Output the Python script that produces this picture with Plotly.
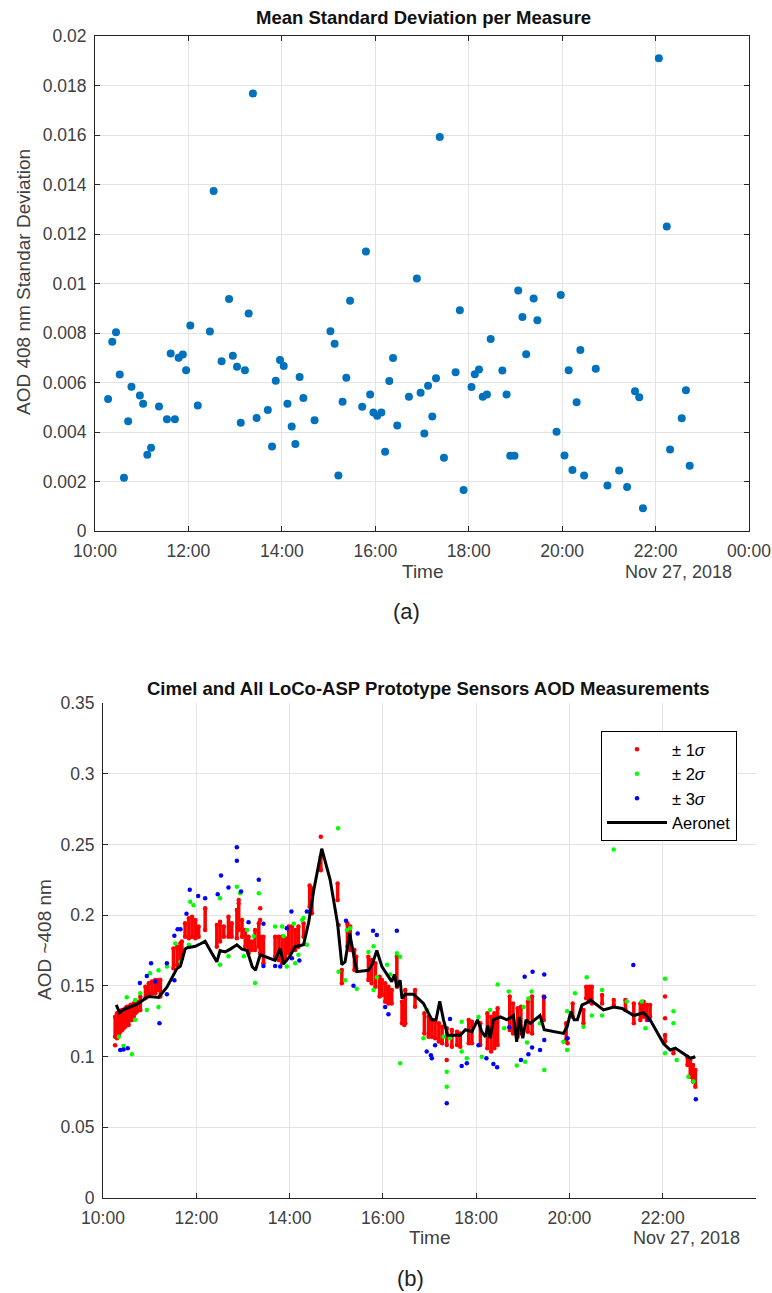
import plotly.graph_objects as go
import pandas as pd

# ---------------- data (time in decimal hours, Nov 27 2018) ----------------
std_hours = [10.28, 10.37, 10.45, 10.53, 10.62, 10.71, 10.78, 10.96, 11.03, 11.12,
             11.20, 11.37, 11.54, 11.62, 11.71, 11.79, 11.88, 11.95, 12.04, 12.20,
             12.46, 12.54, 12.71, 12.87, 12.95, 13.04, 13.12, 13.21, 13.29, 13.38,
             13.46, 13.70, 13.79, 13.87, 13.96, 14.04, 14.12, 14.21, 14.29, 14.38,
             14.46, 14.70, 15.04, 15.13, 15.21, 15.30, 15.38, 15.46, 15.72, 15.80,
             15.89, 15.96, 16.04, 16.13, 16.21, 16.30, 16.38, 16.47, 16.72, 16.89,
             16.97, 17.05, 17.13, 17.22, 17.30, 17.38, 17.47, 17.72, 17.81, 17.89,
             18.06, 18.13, 18.22, 18.30, 18.39, 18.47, 18.72, 18.81, 18.89, 18.98,
             19.06, 19.15, 19.23, 19.39, 19.47, 19.88, 19.97, 20.05, 20.14, 20.22,
             20.31, 20.39, 20.47, 20.72, 20.97, 21.22, 21.39, 21.56, 21.65, 21.73,
             22.07, 22.24, 22.31, 22.56, 22.65, 22.73]
std_values = [0.00533, 0.00765, 0.00803, 0.00632, 0.00215, 0.00443, 0.00583, 0.00547, 0.00514, 0.00308,
              0.00336, 0.00503, 0.00452, 0.00717, 0.00452, 0.00700, 0.00713, 0.00650, 0.00830, 0.00507,
              0.00806, 0.01374, 0.00686, 0.00937, 0.00708, 0.00664, 0.00437, 0.00650, 0.00879, 0.01768,
              0.00457, 0.00489, 0.00341, 0.00607, 0.00691, 0.00667, 0.00514, 0.00422, 0.00352, 0.00622,
              0.00537, 0.00447, 0.00807, 0.00757, 0.00224, 0.00522, 0.00619, 0.00930, 0.00502, 0.01129,
              0.00552, 0.00479, 0.00466, 0.00479, 0.00320, 0.00606, 0.00699, 0.00426, 0.00542, 0.01020,
              0.00559, 0.00394, 0.00587, 0.00463, 0.00617, 0.01592, 0.00296, 0.00641, 0.00892, 0.00166,
              0.00582, 0.00633, 0.00653, 0.00542, 0.00552, 0.00776, 0.00648, 0.00552, 0.00304, 0.00304,
              0.00972, 0.00865, 0.00714, 0.00939, 0.00852, 0.00401, 0.00954, 0.00305, 0.00650, 0.00246,
              0.00520, 0.00731, 0.00224, 0.00656, 0.00184, 0.00244, 0.00178, 0.00565, 0.00540, 0.00092,
              0.01910, 0.01230, 0.00329, 0.00456, 0.00569, 0.00264]

# +-1 sigma: vertical streaks of measurements (time, lowest, highest)
red_hours = [10.26, 10.30, 10.34, 10.37, 10.41, 10.44, 10.48, 10.51, 10.55, 10.59,
             10.62, 10.66, 10.69, 10.73, 10.80, 10.91, 10.98, 11.05, 11.12, 11.19,
             11.23, 11.51, 11.59, 11.66, 11.69, 11.76, 11.84, 11.91, 11.98, 12.05,
             12.19, 12.44, 12.51, 12.59, 12.69, 12.76, 12.87, 12.91, 12.98, 13.05,
             13.12, 13.19, 13.26, 13.34, 13.37, 13.44, 13.69, 13.77, 13.84, 13.91,
             13.98, 14.05, 14.12, 14.19, 14.30, 14.43, 14.48, 14.67, 15.03, 15.12,
             15.24, 15.30, 15.39, 15.43, 15.69, 15.76, 15.84, 15.93, 15.98, 16.05,
             16.12, 16.19, 16.30, 16.41, 16.46, 16.48, 16.69, 16.89, 16.98, 17.05,
             17.12, 17.20, 17.27, 17.37, 17.48, 17.59, 17.66, 17.84, 17.91, 18.09,
             18.24, 18.32, 18.39, 18.46, 18.72, 18.79, 18.89, 18.96, 19.11, 19.20,
             19.45, 19.93, 20.07, 20.30, 20.36, 20.43, 20.48, 20.70, 20.95, 21.20,
             21.38, 21.52, 21.59, 21.66, 21.73, 22.05, 22.23, 22.53, 22.59, 22.65,
             22.70]
red_low = [0.1141, 0.1129, 0.1153, 0.1176, 0.1188, 0.1200, 0.1211, 0.1235, 0.1223, 0.1259,
           0.1259, 0.1282, 0.1306, 0.1318, 0.1329, 0.1412, 0.1435, 0.1447, 0.1447, 0.1471,
           0.1424, 0.1624, 0.1648, 0.1683, 0.1695, 0.1848, 0.1836, 0.1848, 0.1836, 0.1848,
           0.1895, 0.1777, 0.1813, 0.1848, 0.1848, 0.1848, 0.1836, 0.1895, 0.1848, 0.1777,
           0.1730, 0.1754, 0.1754, 0.1777, 0.1730, 0.1659, 0.1706, 0.1683, 0.1659, 0.1683,
           0.1730, 0.1754, 0.1754, 0.1777, 0.1848, 0.2060, 0.2013, 0.2318, 0.2107, 0.1518,
           0.1777, 0.1754, 0.1612, 0.1624, 0.1541, 0.1518, 0.1494, 0.1424, 0.1435, 0.1388,
           0.1376, 0.1376, 0.1494, 0.1235, 0.1223, 0.1235, 0.1353, 0.1164, 0.1141, 0.1141,
           0.1129, 0.1106, 0.1094, 0.1082, 0.1070, 0.1082, 0.1070, 0.1094, 0.1094, 0.1082,
           0.1059, 0.1035, 0.1059, 0.1082, 0.1188, 0.1164, 0.1141, 0.1164, 0.1176, 0.1164,
           0.1259, 0.1117, 0.1282, 0.1235, 0.1412, 0.1388, 0.1376, 0.1376, 0.1365, 0.1329,
           0.1235, 0.1259, 0.1282, 0.1259, 0.1282, 0.1106, 0.1023, 0.0941, 0.0858, 0.0823,
           0.0787]
red_high = [0.1282, 0.1306, 0.1318, 0.1318, 0.1329, 0.1329, 0.1341, 0.1353, 0.1353, 0.1365,
            0.1353, 0.1376, 0.1376, 0.1388, 0.1424, 0.1494, 0.1518, 0.1530, 0.1541, 0.1541,
            0.1541, 0.1765, 0.1777, 0.1801, 0.1813, 0.1942, 0.1978, 0.1989, 0.1966, 0.1919,
            0.2048, 0.1930, 0.1954, 0.1919, 0.1989, 0.1942, 0.2036, 0.2084, 0.1966, 0.1895,
            0.1848, 0.1813, 0.1895, 0.1942, 0.1848, 0.1848, 0.1848, 0.1848, 0.1848, 0.1836,
            0.1919, 0.1919, 0.1895, 0.1919, 0.1942, 0.2210, 0.2190, 0.2413, 0.2224, 0.1612,
            0.1942, 0.1919, 0.1754, 0.1706, 0.1706, 0.1683, 0.1659, 0.1565, 0.1541, 0.1518,
            0.1494, 0.1471, 0.1706, 0.1388, 0.1353, 0.1471, 0.1471, 0.1306, 0.1282, 0.1259,
            0.1247, 0.1235, 0.1211, 0.1200, 0.1188, 0.1176, 0.1164, 0.1259, 0.1247, 0.1235,
            0.1306, 0.1282, 0.1306, 0.1341, 0.1424, 0.1376, 0.1341, 0.1353, 0.1388, 0.1424,
            0.1424, 0.1235, 0.1376, 0.1329, 0.1494, 0.1494, 0.1494, 0.1435, 0.1400, 0.1400,
            0.1376, 0.1376, 0.1388, 0.1365, 0.1365, 0.1153, 0.1047, 0.0999, 0.0976, 0.0941,
            0.0905]
red_single_hours = [10.26, 12.91, 13.37, 13.37, 14.67, 15.05, 17.37, 19.96, 22.05, 22.05]
red_single_values = [0.1080, 0.2107, 0.2048, 0.1966, 0.2555, 0.1930, 0.0976, 0.1094, 0.1424, 0.1271]

green_hours = [10.34, 10.44, 10.62, 10.51, 10.69, 10.69, 10.80, 10.94, 11.01, 11.19,
               11.19, 11.37, 11.55, 11.66, 11.87, 11.94, 11.84, 12.51, 12.51, 12.69,
               12.87, 12.94, 13.02, 13.09, 13.26, 13.34, 13.23, 13.69, 13.84, 13.87,
               13.94, 14.09, 14.12, 14.19, 14.27, 14.30, 14.37, 15.04, 15.05, 15.19,
               15.23, 15.30, 15.44, 15.69, 15.80, 15.80, 15.87, 16.09, 16.16, 16.30,
               16.37, 16.37, 16.87, 16.94, 17.30, 17.37, 17.37, 17.44, 17.69, 17.69,
               17.80, 18.05, 18.12, 18.30, 18.46, 18.70, 18.87, 19.02, 19.05, 19.12,
               19.19, 19.37, 19.46, 18.60, 19.09, 19.87, 19.95, 19.95, 20.12, 20.37,
               20.30, 20.48, 20.70, 20.70, 20.95, 21.23, 21.55, 21.63, 22.05, 22.05,
               22.23, 22.23, 22.30, 22.55, 22.66]
green_values = [0.1140, 0.1075, 0.1016, 0.1420, 0.1400, 0.1260, 0.1447, 0.1330, 0.1590, 0.1610,
                0.1350, 0.1636, 0.1800, 0.1670, 0.2095, 0.2070, 0.1790, 0.2120, 0.1650, 0.1710,
                0.2200, 0.2155, 0.1710, 0.1895, 0.1520, 0.2155, 0.1850, 0.1920, 0.1920, 0.1850,
                0.1636, 0.1940, 0.1660, 0.1720, 0.1966, 0.1980, 0.1790, 0.2614, 0.1600, 0.1540,
                0.1895, 0.1907, 0.1480, 0.1740, 0.1780, 0.1470, 0.1560, 0.1650, 0.1580, 0.1730,
                0.1706, 0.0952, 0.1130, 0.1330, 0.1140, 0.0893, 0.0787, 0.1129, 0.1247, 0.1035,
                0.0988, 0.1280, 0.0999, 0.1330, 0.1510, 0.1460, 0.0936, 0.1350, 0.0964, 0.1410,
                0.1460, 0.1235, 0.0905, 0.1200, 0.1100, 0.1105, 0.1047, 0.1320, 0.1447, 0.1560,
                0.1210, 0.1290, 0.1470, 0.1290, 0.2465, 0.1390, 0.1390, 0.1200, 0.1550, 0.1023,
                0.1320, 0.1235, 0.0976, 0.0858, 0.0823]

blue_hours = [10.37, 10.44, 10.53, 10.79, 10.94, 11.03, 11.12, 11.21, 11.37, 11.37,
              11.53, 11.53, 11.60, 11.66, 11.79, 11.86, 12.04, 12.19, 12.46, 12.53,
              12.69, 12.87, 12.87, 12.96, 13.12, 13.34, 13.44, 13.44, 13.69, 13.80,
              13.94, 14.04, 14.05, 14.21, 14.37, 14.44, 15.21, 15.37, 15.46, 15.79,
              15.87, 16.05, 16.12, 16.30, 16.94, 17.03, 17.05, 17.12, 17.44, 17.37,
              17.69, 17.80, 18.05, 18.22, 18.37, 18.45, 18.71, 18.96, 19.04, 19.12,
              19.21, 19.20, 19.37, 19.46, 19.46, 19.46, 19.96, 21.37, 21.70, 22.71]
blue_values = [0.1047, 0.1050, 0.1058, 0.1520, 0.1570, 0.1660, 0.1530, 0.1235, 0.1660, 0.1440,
               0.1540, 0.1855, 0.1900, 0.1900, 0.2010, 0.2180, 0.2135, 0.2120, 0.2147, 0.2280,
               0.2195, 0.2480, 0.2385, 0.2168, 0.1950, 0.2250, 0.1940, 0.1640, 0.1640, 0.1636,
               0.1907, 0.2025, 0.1695, 0.1680, 0.2025, 0.2025, 0.1960, 0.1500, 0.1870, 0.1890,
               0.1860, 0.1350, 0.1300, 0.1890, 0.1035, 0.1010, 0.0988, 0.1080, 0.1266, 0.0670,
               0.0933, 0.0952, 0.1080, 0.0988, 0.0948, 0.0924, 0.1207, 0.0976, 0.1565, 0.1016,
               0.1600, 0.1065, 0.1047, 0.1580, 0.1420, 0.1117, 0.1130, 0.1648, 0.1260, 0.0698]

aeronet_hours = [10.285, 10.357, 10.43, 10.51, 10.62, 10.73, 10.84, 10.94, 11.00, 11.19,
                 11.37, 11.48, 11.58, 11.66, 11.76, 11.81, 11.98, 12.08, 12.19, 12.30,
                 12.44, 12.51, 12.62, 12.73, 12.87, 12.98, 13.09, 13.20, 13.27, 13.37,
                 13.69, 13.80, 13.87, 14.00, 14.12, 14.30, 14.41, 14.52, 14.69, 14.87,
                 15.03, 15.12, 15.19, 15.29, 15.37, 15.44, 15.69, 15.77, 15.87, 15.98,
                 16.12, 16.19, 16.25, 16.30, 16.37, 16.41, 16.48, 16.66, 16.87, 17.05,
                 17.14, 17.22, 17.30, 17.39, 17.66, 17.77, 17.91, 18.03, 18.12, 18.20,
                 18.25, 18.30, 18.37, 18.52, 18.66, 18.80, 18.87, 18.93, 19.00, 19.07,
                 19.16, 19.30, 19.37, 19.46, 19.87, 19.95, 20.03, 20.10, 20.17, 20.27,
                 20.36, 20.45, 20.73, 20.95, 21.13, 21.38, 21.50, 21.59, 21.73, 22.02,
                 22.16, 22.27, 22.45, 22.59, 22.70]
aeronet_values = [0.1365, 0.1310, 0.1330, 0.1340, 0.1353, 0.1370, 0.1395, 0.1420, 0.1424, 0.1418,
                  0.1490, 0.1560, 0.1620, 0.1640, 0.1760, 0.1770, 0.1780, 0.1796, 0.1815, 0.1750,
                  0.1670, 0.1750, 0.1740, 0.1760, 0.1790, 0.1760, 0.1750, 0.1636, 0.1610, 0.1720,
                  0.1680, 0.1765, 0.1655, 0.1706, 0.1777, 0.1790, 0.1950, 0.2180, 0.2470, 0.2250,
                  0.1940, 0.1650, 0.1670, 0.1870, 0.1720, 0.1600, 0.1610, 0.1650, 0.1750, 0.1636,
                  0.1565, 0.1530, 0.1580, 0.1490, 0.1540, 0.1410, 0.1440, 0.1440, 0.1376, 0.1260,
                  0.1260, 0.1390, 0.1260, 0.1150, 0.1150, 0.1190, 0.1176, 0.1260, 0.1176, 0.1140,
                  0.1220, 0.1130, 0.1260, 0.1280, 0.1260, 0.1290, 0.1105, 0.1280, 0.1130, 0.1260,
                  0.1235, 0.1270, 0.1290, 0.1190, 0.1164, 0.1210, 0.1320, 0.1260, 0.1260, 0.1365,
                  0.1377, 0.1400, 0.1330, 0.1350, 0.1340, 0.1290, 0.1300, 0.1310, 0.1260, 0.1090,
                  0.1047, 0.1060, 0.1020, 0.0988, 0.0999]

x_tick_hours = [10, 12, 14, 16, 18, 20, 22, 24]
x_tick_text = ["10:00", "12:00", "14:00", "16:00", "18:00", "20:00", "22:00", "00:00"]
top_y_ticks = [0, 0.002, 0.004, 0.006, 0.008, 0.01, 0.012, 0.014, 0.016, 0.018, 0.02]
top_y_text = ["0", "0.002", "0.004", "0.006", "0.008", "0.01", "0.012", "0.014", "0.016", "0.018", "0.02"]
bot_y_ticks = [0, 0.05, 0.1, 0.15, 0.2, 0.25, 0.3, 0.35]
bot_y_text = ["0", "0.05", "0.1", "0.15", "0.2", "0.25", "0.3", "0.35"]

# ---------------- helpers ----------------
DAY = pd.Timestamp("2018-11-27")
W, H = 772, 1293


def ts(hours):
    return [DAY + pd.Timedelta(hours=h) for h in hours]


def px(x):
    return x / W


def py(y):
    return 1 - y / H


FONT = "Liberation Sans, Arial, sans-serif"
AXC = "#262626"
TICKC = "#404040"
GRIDC = "#e3e3e3"

fig = go.Figure()

# top scatter
fig.add_trace(go.Scatter(x=ts(std_hours), y=std_values, mode="markers",
                         marker=dict(color="#0072BD", size=8), showlegend=False,
                         xaxis="x", yaxis="y"))

# bottom: red streaks
sx, sy = [], []
for h, lo, hi in zip(red_hours, red_low, red_high):
    t = DAY + pd.Timedelta(hours=h)
    sx += [t, t, None]
    sy += [lo, hi, None]
fig.add_trace(go.Scatter(x=sx, y=sy, mode="lines+markers", line=dict(color="#ff0000", width=3.5),
                         marker=dict(color="#ff0000", size=4.5), showlegend=False,
                         xaxis="x2", yaxis="y2"))
fig.add_trace(go.Scatter(x=ts(red_single_hours), y=red_single_values, mode="markers",
                         marker=dict(color="#ff0000", size=4.5),
                         name="\u00b1 1<i>\u03c3</i>", xaxis="x2", yaxis="y2"))
fig.add_trace(go.Scatter(x=ts(green_hours), y=green_values, mode="markers",
                         marker=dict(color="#00ff00", size=4.5),
                         name="\u00b1 2<i>\u03c3</i>", xaxis="x2", yaxis="y2"))
fig.add_trace(go.Scatter(x=ts(blue_hours), y=blue_values, mode="markers",
                         marker=dict(color="#0000ff", size=4.5),
                         name="\u00b1 3<i>\u03c3</i>", xaxis="x2", yaxis="y2"))
fig.add_trace(go.Scatter(x=ts(aeronet_hours), y=aeronet_values, mode="lines",
                         line=dict(color="black", width=3),
                         name="Aeronet", xaxis="x2", yaxis="y2"))

xr = [DAY + pd.Timedelta(hours=10), DAY + pd.Timedelta(hours=24)]
xticks = ts(x_tick_hours)
common_x = dict(type="date", range=xr, tickmode="array", tickvals=xticks, ticktext=x_tick_text,
                showgrid=True, gridcolor=GRIDC, gridwidth=1, ticks="inside", ticklen=5,
                tickcolor=AXC, showline=True, linecolor=AXC, linewidth=1, automargin=False,
                ticklabelstandoff=4,
                tickfont=dict(family=FONT, size=17.5, color=TICKC), zeroline=False)
common_y = dict(showgrid=True, gridcolor=GRIDC, gridwidth=1, ticks="inside", ticklen=5,
                tickcolor=AXC, showline=True, linecolor=AXC, linewidth=1, tickmode="array",
                automargin=False, ticklabelstandoff=4,
                tickfont=dict(family=FONT, size=17.5, color=TICKC), zeroline=False)

fig.update_layout(
    width=W, height=H, margin=dict(l=0, r=0, t=0, b=0),
    paper_bgcolor="white", plot_bgcolor="white",
    xaxis=dict(common_x, domain=[px(95), px(749)], anchor="y", mirror="ticks"),
    yaxis=dict(common_y, domain=[py(531), py(36)], anchor="x", range=[0, 0.02],
               tickvals=top_y_ticks, ticktext=top_y_text, mirror="ticks"),
    xaxis2=dict(common_x, domain=[px(103), px(756)], anchor="y2"),
    yaxis2=dict(common_y, domain=[py(1198), py(703)], anchor="x2", range=[0, 0.35],
                tickvals=bot_y_ticks, ticktext=bot_y_text),
    legend=dict(x=px(737), y=py(731), xanchor="right", yanchor="top",
                bgcolor="white", bordercolor="black", borderwidth=1,
                font=dict(family=FONT, size=16.5, color="black"),
                itemwidth=60, tracegroupgap=0),
    showlegend=True,
)

ann = [
    ("<b>Mean Standard Deviation per Measure</b>", 424, 18, 18.5, 0, "#111111"),
    ("Time", 423, 571, 19, 0, TICKC),
    ("Nov 27, 2018", 678, 572, 18, 0, TICKC),
    ("AOD 408 nm Standar Deviation", 24, 282, 19, -90, TICKC),
    ("(a)", 406, 612, 22, 0, "#222"),
    ("<b>Cimel and All LoCo-ASP Prototype Sensors AOD Measurements</b>", 428, 688, 18.5, 0, "#111111"),
    ("Time", 430, 1237, 19, 0, TICKC),
    ("Nov 27, 2018", 686, 1238, 18, 0, TICKC),
    ("AOD ~408 nm", 44, 940, 19, -90, TICKC),
    ("(b)", 410, 1278, 22, 0, "#222"),
]
for text, x, y, size, ang, col in ann:
    fig.add_annotation(text=text, x=px(x), y=py(y), xref="paper", yref="paper",
                       showarrow=False, textangle=ang, xanchor="center", yanchor="middle",
                       font=dict(family=FONT, size=size, color=col))

fig.write_html("out.html")
